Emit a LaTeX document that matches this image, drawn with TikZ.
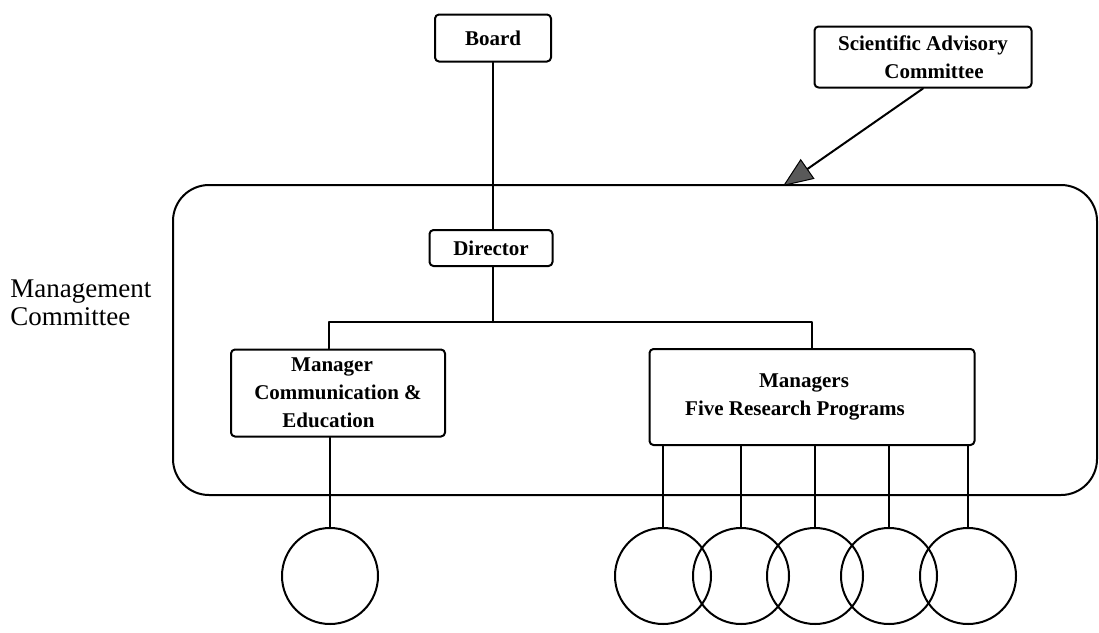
\documentclass[tikz,border=0pt]{standalone}
\usepackage{fontspec}
\setmainfont{Liberation Serif}
\usetikzlibrary{arrows.meta}

\tikzset{
  orgbox/.style={draw,line width=2pt,rounded corners=4pt,align=center,inner sep=0pt,
    font=\bfseries\fontsize{21}{28}\selectfont},
  unit/.style={draw,circle,line width=2pt,minimum size=96pt,inner sep=0pt}
}

\begin{document}
\begin{tikzpicture}[x=1pt,y=-1pt,line width=2pt,line cap=round,line join=round]
\useasboundingbox (0,0) rectangle (1099,632);
\draw[rounded corners=36pt] (173,185) rectangle (1097,495);
\node[anchor=west,align=left,font=\fontsize{27}{28}\selectfont] (mclabel) at (6,303) {Management\\Committee};
\node[orgbox,minimum width=116pt,minimum height=47pt] (board) at (493,38) {Board};
\node[orgbox,minimum width=217pt,minimum height=61pt] (sac) at (923,57) {Scientific Advisory\\\hspace*{22pt}Committee};
\node[orgbox,minimum width=123pt,minimum height=36pt] (dir) at (491,248) {Director};
\node[orgbox,minimum width=214pt,minimum height=87pt] (mce) at (338,393)
  {Manager\hspace*{12pt}\\Communication \&\hspace*{38pt}\\Education\hspace*{19pt}};
\node[orgbox,minimum width=325pt,minimum height=96pt] (frp) at (812,397)
  {Managers\hspace*{16pt}\\Five Research Programs\hspace*{34pt}};
\coordinate (bus) at (493,322);
\coordinate (tip) at (783,186);
\draw (board.south) -- (board.south |- dir.north);
\draw (bus |- dir.south) -- (bus);
\draw ([xshift=-9pt]mce.north) |- (bus) -| (frp.north);
\draw[-{Triangle[length=30pt,width=24pt,fill=black!65,line width=1pt]}] (sac.south) -- (tip);
\node[unit] (c0) at (330,576) {};
\draw (c0.north |- mce.south) -- (c0.north);
\foreach \i/\x in {1/663,2/741,3/815,4/889,5/968}
{
\node[unit] (c\i) at (\x,576) {};
\draw (c\i.north |- frp.south) -- (c\i.north);
}
\end{tikzpicture}
\end{document}
